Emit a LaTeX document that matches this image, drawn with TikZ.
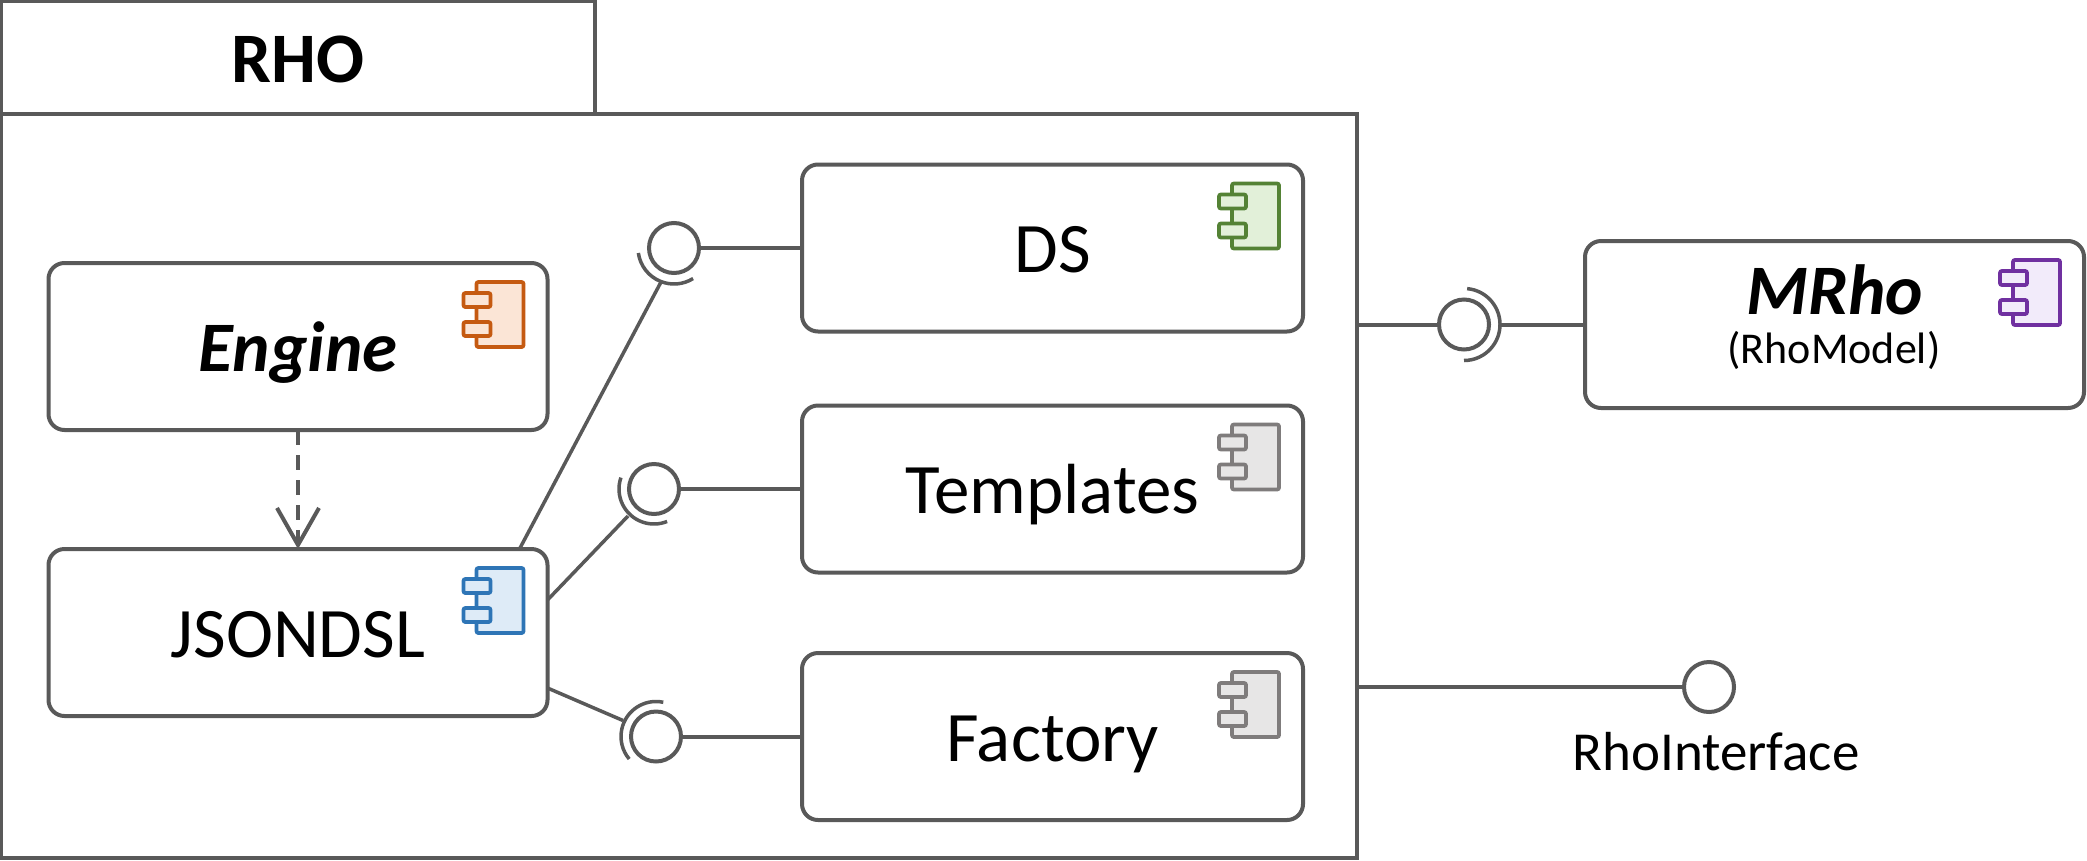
\documentclass[tikz,border=0pt]{standalone}
\usepackage{fontspec}
\setmainfont{Carlito}
\usetikzlibrary{calc,arrows.meta}
\definecolor{linegray}{HTML}{595959}
\definecolor{orangeL}{HTML}{C55A11}\definecolor{orangeF}{HTML}{FBE5D6}
\definecolor{greenL}{HTML}{548235}\definecolor{greenF}{HTML}{E2F0D9}
\definecolor{blueL}{HTML}{2E75B6}\definecolor{blueF}{HTML}{DEEBF7}
\definecolor{grayL}{HTML}{7F7C7C}\definecolor{grayF}{HTML}{E7E6E6}
\definecolor{purpleL}{HTML}{7030A0}\definecolor{purpleF}{HTML}{F2EBFA}
\tikzset{
  x=1pt,y=1pt,
  edge/.style={draw=linegray,line width=4pt},
  framebox/.style={edge,rectangle,outer sep=0pt,inner sep=0pt,anchor=center},
  compbox/.style={edge,rectangle,rounded corners=16pt,outer sep=0pt,inner sep=0pt,
    minimum width=499pt,minimum height=167pt,anchor=center,
    font=\fontsize{71}{71}\selectfont,text height=56pt,text depth=7pt},
  iface/.style={edge,circle,fill=white,minimum size=50pt,inner sep=0pt,outer sep=0pt,anchor=center},
  socket/.style={draw=linegray,line width=3.5pt},
  link/.style={draw=linegray,line width=4pt},
  txt/.style={inner sep=0pt,outer sep=0pt,anchor=center},
}
\newcommand{\compicon}[3]{%
  \begin{scope}[shift={($(#1.north east)+(-24,-19)$)},draw=#2,fill=#3,line width=3.8pt,rounded corners=2pt]
    \filldraw (-47,0) rectangle (0,-65);
    \filldraw (-60,-11) rectangle (-33,-25);
    \filldraw (-60,-40) rectangle (-33,-54);
  \end{scope}}
\newcommand{\socketarc}[4]{%
  \draw[socket] ($(#1)+(#2:#4)$) arc[start angle=#2,end angle=#3,radius=#4];}
\begin{document}
\begin{tikzpicture}
\useasboundingbox (0,0) rectangle (2087,-860);
\fill[white] (0,0) rectangle (2087,-860);
% frame
\node[framebox,minimum width=594pt,minimum height=113pt,font=\fontsize{71}{71}\selectfont\bfseries,text height=56pt,text depth=7pt] (tab) at (298,-57.5) {RHO};
\node[framebox,minimum width=1356pt,minimum height=744pt] (frame) at (679,-486) {};
% components
\node[compbox] (engine) at (298,-346.5) {\bfseries\itshape Engine};
\node[compbox] (json) at (298,-632.5) {JSONDSL};
\node[compbox,minimum width=501pt] (ds) at (1052.5,-248) {DS};
\node[compbox,minimum width=501pt] (templates) at (1052.5,-489) {Templates};
\node[compbox,minimum width=501pt] (factory) at (1052.5,-736.5) {Factory};
\node[compbox] (mrho) at (1834.5,-324.5) {};
\node[txt,font=\fontsize{71}{71}\selectfont\bfseries\itshape] (mrhoname) at (1834.5,-290) {MRho};
\node[txt,font=\fontsize{44}{44}\selectfont] (mrhosub) at (1834,-350) {(RhoModel)};
% icons
\compicon{engine}{orangeL}{orangeF}
\compicon{json}{blueL}{blueF}
\compicon{ds}{greenL}{greenF}
\compicon{templates}{grayL}{grayF}
\compicon{factory}{grayL}{grayF}
\compicon{mrho}{purpleL}{purpleF}
% interfaces
\node[iface] (ifds) at (674,-248) {};
\node[iface] (iftpl) at (654,-489) {};
\node[iface] (iffac) at (656,-736.5) {};
\node[iface] (ifm) at (1464,-324.5) {};
\node[iface] (ifrho) at (1709,-687) {};
\node[txt,font=\fontsize{55}{55}\selectfont] (rholabel) at (1716,-752) {RhoInterface};
% sockets
\socketarc{ifds}{188}{302}{36pt}
\socketarc{iftpl}{161}{292}{35pt}
\socketarc{iffac}{78}{220}{35pt}
\socketarc{ifm}{85}{-90}{36pt}
% connectors
\draw[link] (ifds) -- (ds.west);
\draw[link] (iftpl) -- (templates.west);
\draw[link] (iffac) -- (factory.west);
\draw[link] (frame.east |- ifm) -- (ifm);
\draw[link] ($(ifm)+(36,0)$) -- (mrho.west);
\draw[link] (frame.east |- ifrho) -- (ifrho);
\draw[link,line width=3.5pt] ($(json.north west)+(471,0)$) -- ($(ifds)+(-13,-34)$);
\draw[link,line width=3.5pt] ($(json.north east)+(0,-51)$) -- ($(iftpl)+(-26,-27)$);
\draw[link,line width=3.5pt] ($(json.north east)+(0,-139)$) -- ($(iffac)+(-33,16)$);
\draw[link,dash pattern=on 15pt off 10pt,-{Straight Barb[length=37pt,width=42pt]}] (engine.south) -- (json.north);
\end{tikzpicture}
\end{document}
